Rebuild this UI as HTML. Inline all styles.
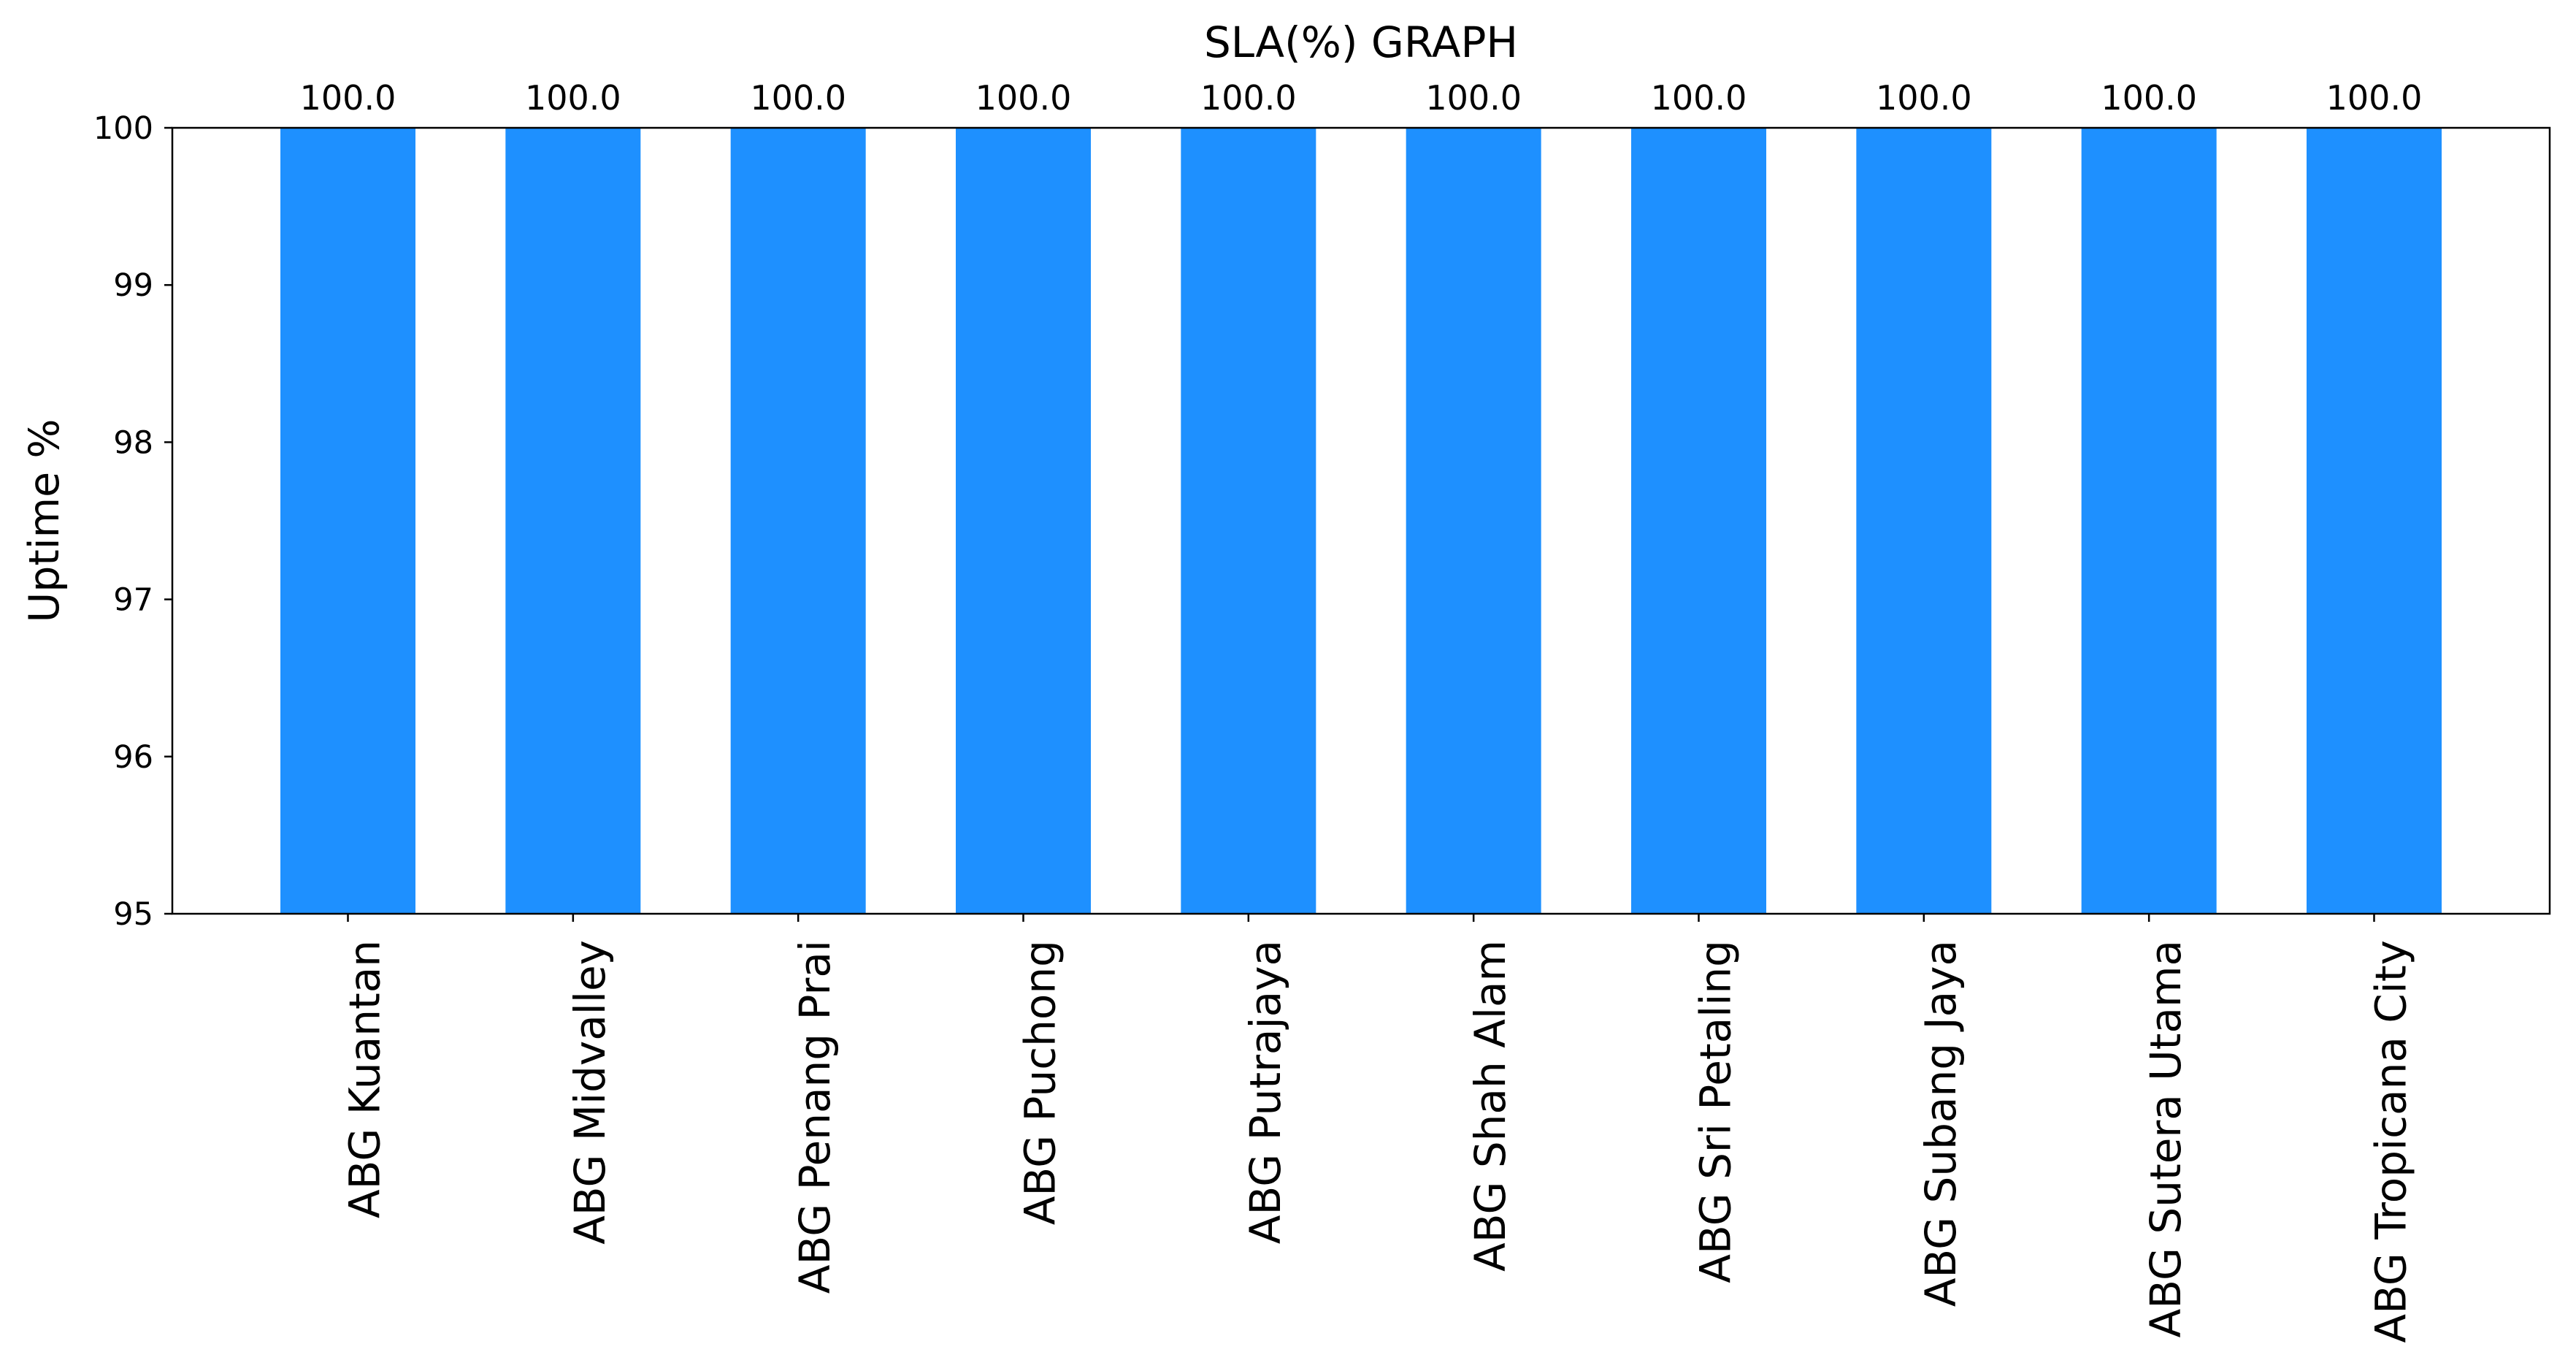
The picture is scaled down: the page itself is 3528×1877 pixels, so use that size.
<!DOCTYPE html>
<html><head><meta charset="utf-8"><style>
html,body{margin:0;padding:0;background:#fff;}
svg{display:block;font-family:"DejaVu Sans","Liberation Sans",sans-serif;}
</style></head><body>
<svg id="chart" width="3528" height="1877" viewBox="0 0 3528 1877" xmlns="http://www.w3.org/2000/svg">
<rect width="3528" height="1877" fill="#fff"/>
<text x="1864" y="78" font-size="58" text-anchor="middle">SLA(%) GRAPH</text>
<text transform="translate(80,713) rotate(-90)" font-size="57" text-anchor="middle">Uptime %</text>
<g id="bars"></g>
<g id="axes"></g>
</svg>
<script>
const categories = ["ABG Kuantan","ABG Midvalley","ABG Penang Prai","ABG Puchong","ABG Putrajaya","ABG Shah Alam","ABG Sri Petaling","ABG Subang Jaya","ABG Sutera Utama","ABG Tropicana City"];
const values = [100.0,100.0,100.0,100.0,100.0,100.0,100.0,100.0,100.0,100.0];
const yTicks = [95,96,97,98,99,100];

const L=236,R=3492,T=175,B=1251;
const xMin=-0.78,xMax=categories.length-1+0.78,yMin=95,yMax=100;
const xs=i=>L+(i-xMin)/(xMax-xMin)*(R-L);
const ys=v=>B-(v-yMin)/(yMax-yMin)*(B-T);
const ns="http://www.w3.org/2000/svg";
const bars=document.getElementById('bars'),axes=document.getElementById('axes');
const bw=0.6*(R-L)/(xMax-xMin);
function mk(tag,attrs,parent){const e=document.createElementNS(ns,tag);for(const k in attrs)e.setAttribute(k,attrs[k]);parent.appendChild(e);return e;}
categories.forEach((c,i)=>{
  const v=Math.min(Math.max(values[i],yMin),yMax);
  const r=mk('rect',{x:xs(i)-bw/2,y:ys(v),width:bw,height:B-ys(v),fill:'#1e90ff'},bars);
  
  
  const t=mk('text',{x:xs(i),y:ys(values[i])-25,'font-size':'46','text-anchor':'middle'},bars);
  t.textContent=values[i].toFixed(1);
  
  
  const tk=mk('line',{x1:xs(i),x2:xs(i),y1:B,y2:B+11,stroke:'#000','stroke-width':2.5},axes);
  
  
  const lb=mk('text',{transform:`translate(${xs(i)+43},${B+36}) rotate(-90)`,'font-size':'58','text-anchor':'end'},axes);
  lb.textContent=c;
  
  
});
yTicks.forEach(v=>{
  const tk=mk('line',{x1:L-11,x2:L,y1:ys(v),y2:ys(v),stroke:'#000','stroke-width':2.5},axes);
  
  
  const t=mk('text',{x:L-26,y:ys(v)+15,'font-size':'43','text-anchor':'end'},axes);
  t.textContent=v;
  
  
});
const fr=mk('rect',{x:L,y:T,width:R-L,height:B-T,fill:'none',stroke:'#000','stroke-width':2.5},axes);


</script>
</body></html>
